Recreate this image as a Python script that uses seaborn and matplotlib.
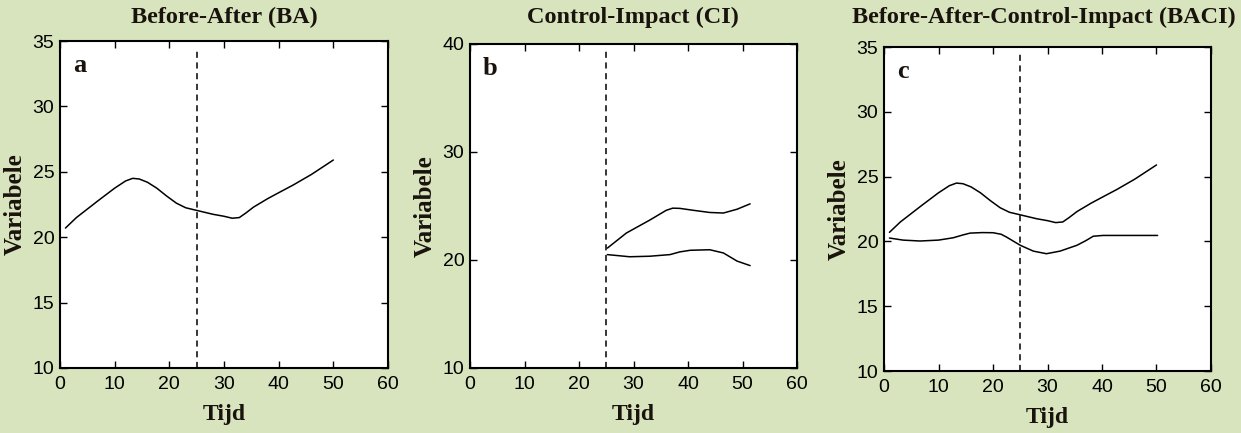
import numpy as np
import pandas as pd
import matplotlib
matplotlib.use('Agg')
import matplotlib.pyplot as plt
import seaborn as sns

# Panel a / c: impact series (before and after)
impact_x = [1, 3, 5, 7, 10, 12, 13.3, 14.5, 16, 17.7, 19.5, 21.3, 23, 25, 28, 30, 31.5, 32.8, 34, 35.4, 38, 40, 42.7, 46, 50]
impact_y = [20.7, 21.5, 22.15, 22.8, 23.75, 24.3, 24.5, 24.45, 24.2, 23.75, 23.15, 22.6, 22.25, 22.05, 21.75, 21.6, 21.45, 21.5, 21.85, 22.3, 22.95, 23.4, 24.0, 24.8, 25.9]

# Panel c: control series
control_x = [1, 3.5, 6.6, 10, 12.7, 14.5, 15.8, 18, 20, 21.5, 22.5, 25, 27.4, 29.8, 32.3, 35.4, 37, 38.4, 40.2, 45, 50.2]
control_y = [20.26, 20.1, 20.03, 20.1, 20.28, 20.5, 20.64, 20.68, 20.67, 20.55, 20.33, 19.7, 19.25, 19.05, 19.25, 19.7, 20.05, 20.4, 20.46, 20.46, 20.46]

# Panel b: control and impact after the intervention only
ci_x_upper = [25.2, 28.7, 33, 36, 37.2, 38.5, 41, 44, 46.5, 49, 51.4]
ci_y_upper = [21.1, 22.5, 23.7, 24.6, 24.8, 24.78, 24.6, 24.4, 24.35, 24.7, 25.2]
ci_x_lower = [25.2, 29.3, 33, 36.7, 38.5, 40.4, 44, 46.5, 49, 51.4]
ci_y_lower = [20.5, 20.3, 20.35, 20.5, 20.75, 20.9, 20.95, 20.65, 19.9, 19.48]

intervention = 25
titles = ['Before-After (BA)', 'Control-Impact (CI)', 'Before-After-Control-Impact (BACI)']
letters = ['a', 'b', 'c']

bg = '#d7e4bd'
txt = '#1a120c'

sns.set_style('ticks')
plt.rcParams['font.family'] = ['Liberation Sans', 'DejaVu Sans']

fig = plt.figure(figsize=(12.41, 4.33), dpi=100, facecolor=bg)
positions = [
    [60 / 1241, 1 - 368 / 433, 328 / 1241, 327 / 433],
    [470 / 1241, 1 - 368 / 433, 327 / 1241, 324 / 433],
    [884 / 1241, 1 - 371 / 433, 327 / 1241, 324 / 433],
]
title_x = [224, 633, 1044]
axes = [fig.add_axes(p) for p in positions]

lw = 1.1
sns.lineplot(x=impact_x, y=impact_y, ax=axes[0], color='black', lw=lw)
sns.lineplot(x=ci_x_upper, y=ci_y_upper, ax=axes[1], color='black', lw=lw)
sns.lineplot(x=ci_x_lower, y=ci_y_lower, ax=axes[1], color='black', lw=lw)
sns.lineplot(x=impact_x, y=impact_y, ax=axes[2], color='black', lw=lw)
sns.lineplot(x=control_x, y=control_y, ax=axes[2], color='black', lw=lw)

ylims = [(10, 35), (10, 40), (10, 35)]
yticks = [np.arange(10, 36, 5), np.arange(10, 41, 10), np.arange(10, 36, 5)]
serif = ['Liberation Serif', 'DejaVu Serif']

for i, ax in enumerate(axes):
    ax.set_facecolor('white')
    ax.axvline(intervention, ymin=0, ymax=0.98, color='black', lw=1.1, ls=(0, (4, 3)))
    ax.set_xlim(0, 60)
    ax.set_ylim(*ylims[i])
    ax.set_xticks(np.arange(0, 61, 10))
    ax.set_yticks(yticks[i])
    ax.tick_params(direction='in', length=5, width=1, top=True, right=True,
                   labelsize=14, colors='black')
    ax.tick_params(axis='x', pad=6)
    ax.tick_params(axis='y', pad=4)
    for s in ax.spines.values():
        s.set_visible(True)
        s.set_linewidth(1.5)
        s.set_color('black')
    ax.set_xlabel('Tijd', fontsize=17, fontweight='bold', family=serif, color=txt, labelpad=8)
    ax.set_ylabel('Variabele', fontsize=18, fontweight='bold', family=serif, color=txt, labelpad=4)
    ax.text(0.04, 0.925, letters[i], transform=ax.transAxes, fontsize=19,
            fontweight='bold', family=serif, color=txt, ha='left', va='center')
    fig.text(title_x[i] / 1241, 1 - 17 / 433, titles[i], fontsize=17.5, fontweight='bold',
             family=serif, color=txt, ha='center', va='center')

fig.savefig('out.png', dpi=100, facecolor=bg)
